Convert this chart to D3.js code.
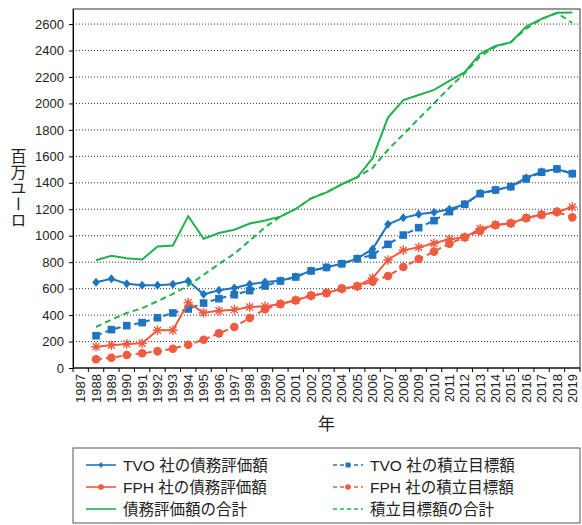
<!DOCTYPE html>
<html><head><meta charset="utf-8">
<script src="https://cdn.jsdelivr.net/npm/d3@7"></script>
<style>
html,body{margin:0;padding:0;background:#fff;}
svg{display:block;}
text{font-family:"Liberation Sans","Noto Sans CJK JP",sans-serif;}
</style></head>
<body>
<svg id="chart" width="582" height="525"></svg>
<script>
const years = [1987,1988,1989,1990,1991,1992,1993,1994,1995,1996,1997,1998,1999,2000,2001,2002,2003,2004,2005,2006,2007,2008,2009,2010,2011,2012,2013,2014,2015,2016,2017,2018,2019];
const dataYears = years.slice(1);
const yTicks = [0,200,400,600,800,1000,1200,1400,1600,1800,2000,2200,2400,2600];

const tvoDebt  = [648,675,637,625,625,633,658,557,587,605,633,650,660,690,736,761,789,827,900,1086,1135,1162,1177,1200,1238,1321,1346,1371,1439,1484,1505,1469];
const tvoFund  = [244,290,320,343,380,416,446,491,524,554,585,620,658,688,734,760,788,826,854,935,1005,1061,1114,1182,1238,1318,1346,1371,1429,1480,1505,1469];
const fphDebt  = [161,172,181,187,285,285,494,418,433,441,461,466,484,512,547,567,600,618,680,817,891,912,943,973,988,1053,1081,1094,1134,1159,1180,1217];
const fphFund  = [66,78,98,111,126,146,176,214,262,310,378,444,484,512,547,567,600,618,653,696,764,824,880,940,988,1036,1081,1094,1134,1159,1180,1139];
const totDebt  = [814,849,830,820,918,926,1148,977,1021,1045,1092,1115,1144,1202,1283,1328,1389,1442,1586,1893,2026,2064,2102,2170,2236,2376,2434,2462,2582,2639,2686,2687];
const totFund  = [310,366,416,452,505,560,622,705,786,864,963,1064,1144,1202,1283,1328,1389,1442,1512,1650,1766,1885,2000,2120,2228,2356,2428,2464,2566,2638,2684,2608];

const labels = {
  tvoDebt:"TVO 社の債務評価額", tvoFund:"TVO 社の積立目標額",
  fphDebt:"FPH 社の債務評価額", fphFund:"FPH 社の積立目標額",
  totDebt:"債務評価額の合計", totFund:"積立目標額の合計"
};
const yTitle = "百万ユーロ";
const xTitle = "年";

const BLUE="#1f74c1", RED="#f05a3e", GREEN="#22b24c";
const series = [
  {key:"tvoDebt", vals:tvoDebt, color:BLUE, dash:null, marker:"diamond"},
  {key:"tvoFund", vals:tvoFund, color:BLUE, dash:"6,4", marker:"square"},
  {key:"fphDebt", vals:fphDebt, color:RED, dash:null, marker:"star"},
  {key:"fphFund", vals:fphFund, color:RED, dash:"6,4", marker:"circle"},
  {key:"totDebt", vals:totDebt, color:GREEN, dash:null, marker:null},
  {key:"totFund", vals:totFund, color:GREEN, dash:"6,4", marker:null}
];

const svg = d3.select("#chart");
const L=73, R=580, T=9, B=368;
const x = d3.scaleBand().domain(years).range([L,R]).padding(0);
const bw = x.bandwidth();
const cx = d => x(d)+bw/2;
const y = d3.scaleLinear().domain([0,2714]).range([B,T]);

// grid
svg.append("g").selectAll("line").data(yTicks.slice(1)).join("line")
  .attr("x1",L).attr("x2",R).attr("y1",d=>y(d)).attr("y2",d=>y(d))
  .attr("stroke","#333").attr("stroke-width",1).attr("stroke-dasharray","1,2");

// frame
svg.append("rect").attr("x",L).attr("y",T).attr("width",R-L).attr("height",B-T)
  .attr("fill","none").attr("stroke","#333").attr("stroke-width",1);

// y axis
const ya = svg.append("g").attr("transform",`translate(${L},0)`)
  .call(d3.axisLeft(y).tickValues(yTicks).tickFormat(d3.format("d")).tickSize(4).tickPadding(5).tickSizeOuter(0));
ya.select(".domain").attr("stroke","#000");
ya.selectAll(".tick line").attr("stroke","#000");
ya.selectAll("text").attr("font-size",13).attr("fill","#222").attr("font-family","Liberation Sans");

// x axis line + boundary ticks
svg.append("line").attr("x1",L).attr("x2",R).attr("y1",B).attr("y2",B).attr("stroke","#000");
const bounds = years.map(d=>x(d)).concat([R]);
svg.append("g").selectAll("line").data(bounds).join("line")
  .attr("x1",d=>d).attr("x2",d=>d).attr("y1",B).attr("y2",B+4).attr("stroke","#000");
svg.append("g").selectAll("text").data(years).join("text")
  .attr("transform",d=>`translate(${cx(d)},${B+6}) rotate(-90)`)
  .attr("text-anchor","end").attr("dy","0.35em")
  .attr("font-size",13).attr("fill","#222").text(d=>d);

// titles
svg.append("text").attr("x",(L+R)/2).attr("y",430).attr("text-anchor","middle")
  .attr("font-size",17).attr("fill","#222").attr("font-family","Noto Sans CJK JP").text(xTitle);
svg.append("text").attr("x",17).attr("y",148)
  .attr("font-size",16).attr("fill","#222").attr("font-family","Noto Sans CJK JP")
  .style("writing-mode","vertical-rl").text(yTitle);

// markers
function drawMarker(g, type, color, px, py, s){
  s = s||1;
  if(type==="diamond"){
    g.append("path").attr("d",`M${px},${py-4.5*s}L${px+3.8*s},${py}L${px},${py+4.5*s}L${px-3.8*s},${py}Z`).attr("fill",color);
  } else if(type==="square"){
    g.append("rect").attr("x",px-3.8*s).attr("y",py-3.8*s).attr("width",7.6*s).attr("height",7.6*s).attr("fill",color);
  } else if(type==="circle"){
    g.append("circle").attr("cx",px).attr("cy",py).attr("r",4.3*s).attr("fill",color);
  } else if(type==="star"){
    const r=4.8*s, d=r*0.72;
    g.append("path").attr("d",`M${px-r},${py}L${px+r},${py}M${px},${py-r}L${px},${py+r}M${px-d},${py-d}L${px+d},${py+d}M${px-d},${py+d}L${px+d},${py-d}`)
      .attr("stroke",color).attr("stroke-width",1.4).attr("fill","none");
  }
}

const line = d3.line().x((d,i)=>cx(dataYears[i])).y(d=>y(d));
series.forEach(s=>{
  const g = svg.append("g");
  g.append("path").datum(s.vals).attr("d",line).attr("fill","none")
    .attr("stroke",s.color).attr("stroke-width",2)
    .attr("stroke-dasharray",s.dash);
  if(s.marker) s.vals.forEach((v,i)=>drawMarker(g,s.marker,s.color,cx(dataYears[i]),y(v)));
});

// legend
const lg = svg.append("g");
lg.append("rect").attr("x",73).attr("y",448).attr("width",507).attr("height",75)
  .attr("fill","#fff").attr("stroke","#555").attr("stroke-width",1);
const rowsY=[465,487,509];
const leftKeys=["tvoDebt","fphDebt","totDebt"], rightKeys=["tvoFund","fphFund","totFund"];
function legendItem(s, x0, yy){
  lg.append("line").attr("x1",x0).attr("x2",x0+30).attr("y1",yy).attr("y2",yy)
    .attr("stroke",s.color).attr("stroke-width",1.6).attr("stroke-dasharray",s.dash?"4,3":null);
  if(s.marker) drawMarker(lg,s.marker,s.color,x0+15,yy,0.65);
  lg.append("text").attr("x",x0+37).attr("y",yy).attr("dy","0.36em")
    .attr("font-size",15.5).attr("fill","#222").text(labels[s.key]);
}
leftKeys.forEach((k,i)=>legendItem(series.find(s=>s.key===k),86,rowsY[i]));
rightKeys.forEach((k,i)=>legendItem(series.find(s=>s.key===k),333,rowsY[i]));
</script>
</body></html>
